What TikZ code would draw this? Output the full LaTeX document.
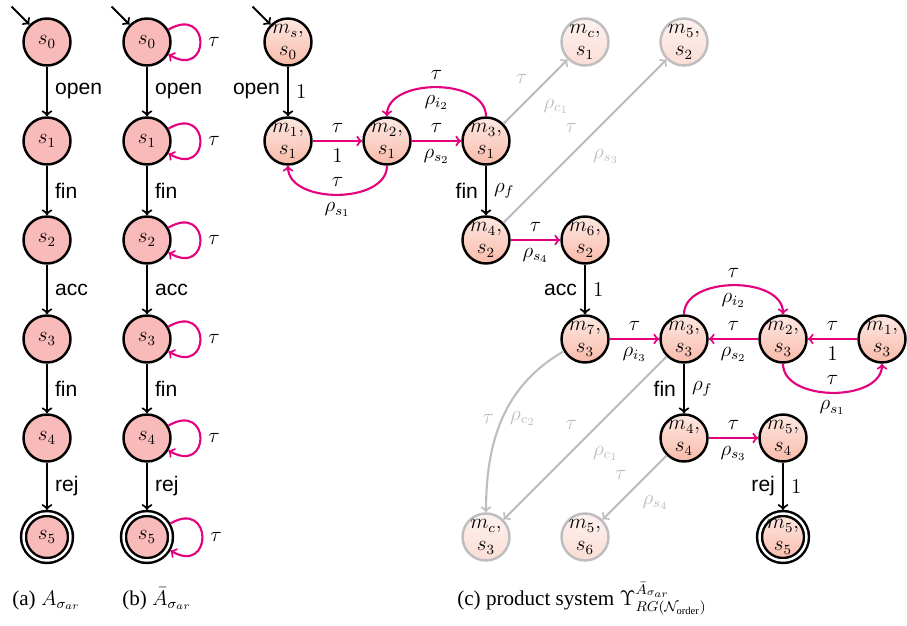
\documentclass[tikz,border=0pt,12pt]{standalone}
\usepackage{fontspec}
\setmainfont{Liberation Serif}
\setsansfont{Liberation Sans}
\usepackage{amsmath,amssymb}
\usetikzlibrary{positioning}

\definecolor{taucol}{RGB}{229,0,126}
\definecolor{statepink}{RGB}{249,186,186}
\definecolor{prodtop}{RGB}{253,232,226}
\definecolor{prodbot}{RGB}{249,187,170}
\definecolor{deadtop}{RGB}{253,242,240}
\definecolor{deadbot}{RGB}{251,221,213}
\definecolor{deadline}{RGB}{190,190,190}

\begin{document}
\begin{tikzpicture}[node distance=1.98cm, on grid,
  st/.style={circle,draw,line width=1.4pt,fill=statepink,minimum size=0.94cm,inner sep=0pt},
  pst/.style={st,top color=prodtop,bottom color=prodbot,align=center,font=\fontsize{11.5}{12.5}\selectfont},
  dst/.style={pst,draw=deadline},
  dead st/.style={dst,top color=deadtop,bottom color=deadbot},
  acc/.style={double,double distance=1.4pt,outer sep=2pt},
  tr/.style={->,line width=1.2pt},
  tau/.style={tr,draw=taucol},
  dead/.style={tr,draw=deadline,text=deadline},
  lab/.style={font=\sffamily}]
\useasboundingbox (0,0) rectangle (18.14,-12.5);

% (a) the automaton
\node[st] (a0) at (0.94,-0.84) {$s_0$};
\node[st,below=of a0] (a1) {$s_1$};
\node[st,below=of a1] (a2) {$s_2$};
\node[st,below=of a2] (a3) {$s_3$};
\node[st,below=of a3] (a4) {$s_4$};
\node[st,acc,below=of a4] (a5) {$s_5$};
\coordinate[above left=0.36cm and 0.36cm of a0.north west] (ai);
\draw[tr] (ai) -- (a0);
\draw[tr] (a0) -- node[right,lab]{open} (a1);
\draw[tr] (a1) -- node[right,lab]{fin} (a2);
\draw[tr] (a2) -- node[right,lab]{acc} (a3);
\draw[tr] (a3) -- node[right,lab]{fin} (a4);
\draw[tr] (a4) -- node[right,lab]{rej} (a5);

% (b) with tau loops
\node[st] (b0) at (2.94,-0.84) {$s_0$};
\node[st,below=of b0] (b1) {$s_1$};
\node[st,below=of b1] (b2) {$s_2$};
\node[st,below=of b2] (b3) {$s_3$};
\node[st,below=of b3] (b4) {$s_4$};
\node[st,acc,below=of b4] (b5) {$s_5$};
\coordinate[above left=0.36cm and 0.36cm of b0.north west] (bi);
\draw[tr] (bi) -- (b0);
\draw[tr] (b0) -- node[right,lab]{open} (b1);
\draw[tr] (b1) -- node[right,lab]{fin} (b2);
\draw[tr] (b2) -- node[right,lab]{acc} (b3);
\draw[tr] (b3) -- node[right,lab]{fin} (b4);
\draw[tr] (b4) -- node[right,lab]{rej} (b5);
\foreach \n in {0,...,5}
  \draw[tau] (b\n.30) .. controls +(0.85,0.5) and +(0.85,-0.5) .. node[right]{$\tau$} (b\n.-30);

% (c) product system
\node[pst] (ms0) at (5.76,-0.84) {$m_s,$\\$s_0$};
\node[pst,below=of ms0] (m1s1) {$m_1,$\\$s_1$};
\node[pst,right=of m1s1] (m2s1) {$m_2,$\\$s_1$};
\node[pst,right=of m2s1] (m3s1) {$m_3,$\\$s_1$};
\node[dead st,above right=1.98cm and 1.98cm of m3s1] (mcs1) {$m_c,$\\$s_1$};
\node[dead st,right=of mcs1] (m5s2) {$m_5,$\\$s_2$};
\node[pst,below=of m3s1] (m4s2) {$m_4,$\\$s_2$};
\node[pst,right=of m4s2] (m6s2) {$m_6,$\\$s_2$};
\node[pst,below=of m6s2] (m7s3) {$m_7,$\\$s_3$};
\node[pst,right=of m7s3] (m3s3) {$m_3,$\\$s_3$};
\node[pst,right=of m3s3] (m2s3) {$m_2,$\\$s_3$};
\node[pst,right=of m2s3] (m1s3) {$m_1,$\\$s_3$};
\node[pst,below=of m3s3] (m4s4) {$m_4,$\\$s_4$};
\node[pst,right=of m4s4] (m5s4) {$m_5,$\\$s_4$};
\node[pst,acc,below=of m5s4] (m5s5) {$m_5,$\\$s_5$};
\node[dead st,below left=1.98cm and 1.98cm of m4s4] (m5s6) {$m_5,$\\$s_6$};
\node[dead st,left=of m5s6] (mcs3) {$m_c,$\\$s_3$};
\coordinate[above left=0.36cm and 0.36cm of ms0.north west] (msi);

\draw[tr] (msi) -- (ms0);
\draw[tr] (ms0) -- node[left,lab]{open} node[right]{$1$} (m1s1);
\draw[tau] (m1s1) -- node[above]{$\tau$} node[below]{$1$} (m2s1);
\draw[tau] (m2s1.south) to[out=-90,in=-90] node[above]{$\tau$} node[below]{$\rho_{s_1}$} (m1s1.south);
\draw[tau] (m2s1) -- node[above]{$\tau$} node[below]{$\rho_{s_2}$} (m3s1);
\draw[tau] (m3s1.north) to[out=90,in=90] node[above]{$\tau$} node[below]{$\rho_{i_2}$} (m2s1.north);
\draw[dead] (m3s1) -- node[above left]{$\tau$} node[below right]{$\rho_{c_1}$} (mcs1);
\draw[tr] (m3s1) -- node[left,lab]{fin} node[right]{$\rho_f$} (m4s2);
\draw[dead] (m4s2) -- node[above left]{$\tau$} node[below right]{$\rho_{s_3}$} (m5s2);
\draw[tau] (m4s2) -- node[above]{$\tau$} node[below]{$\rho_{s_4}$} (m6s2);
\draw[tr] (m6s2) -- node[left,lab]{acc} node[right]{$1$} (m7s3);
\draw[tau] (m7s3) -- node[above]{$\tau$} node[below]{$\rho_{i_3}$} (m3s3);
\draw[tau] (m3s3.north) to[out=90,in=90] node[above]{$\tau$} node[below]{$\rho_{i_2}$} (m2s3.north);
\draw[tau] (m2s3) -- node[above]{$\tau$} node[below]{$\rho_{s_2}$} (m3s3);
\draw[tau] (m1s3) -- node[above]{$\tau$} node[below]{$1$} (m2s3);
\draw[tau] (m2s3.south) to[out=-90,in=-90] node[above]{$\tau$} node[below]{$\rho_{s_1}$} (m1s3.south);
\draw[tr] (m3s3) -- node[left,lab]{fin} node[right]{$\rho_f$} (m4s4);
\draw[tau] (m4s4) -- node[above]{$\tau$} node[below]{$\rho_{s_3}$} (m5s4);
\draw[tr] (m5s4) -- node[left,lab]{rej} node[right]{$1$} (m5s5);
\draw[dead] (m7s3) to[out=210,in=90] node[left]{$\tau$} node[right]{$\rho_{c_2}$} (mcs3);
\draw[dead] (m3s3) -- node[above left]{$\tau$} node[below right]{$\rho_{c_1}$} (mcs3);
\draw[dead] (m4s4) -- node[above left]{$\tau$} node[below right]{$\rho_{s_4}$} (m5s6);

% captions
\node[anchor=base west,inner sep=0pt] (capa) at (0.24,-12.1) {(a) $A_{\sigma_{ar}}$};
\node[anchor=base west,inner sep=0pt] (capb) at (2.44,-12.1) {(b) $\bar{A}_{\sigma_{ar}}$};
\node[anchor=base west,inner sep=0pt] (capc) at (9.14,-12.1) {(c) product system $\Upsilon^{\bar{A}_{\sigma_{ar}}}_{RG(\mathcal{N}_\text{order})}$};
\end{tikzpicture}
\end{document}
